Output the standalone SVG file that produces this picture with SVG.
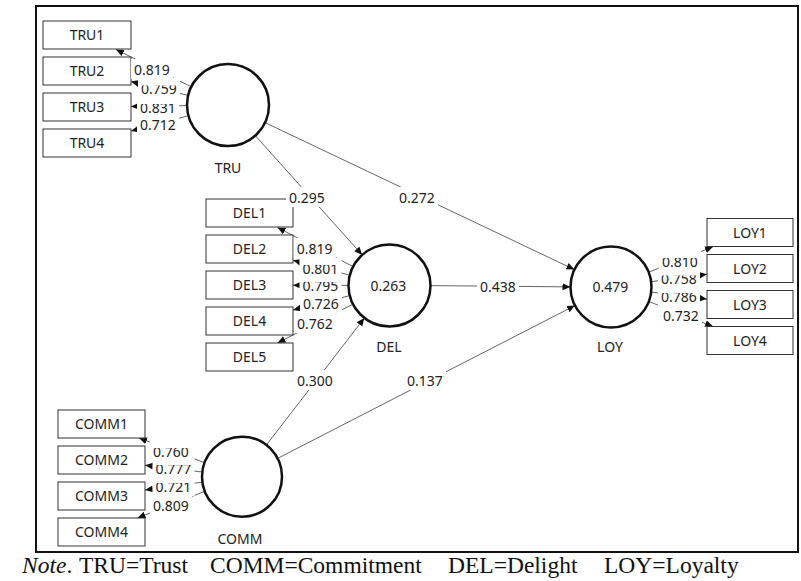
<svg xmlns="http://www.w3.org/2000/svg" width="801" height="581" viewBox="0 0 801 581">
<style>
.frame{fill:none;stroke:#111;stroke-width:2}
.box{fill:#fff;stroke:#333;stroke-width:1}
.lat{fill:#fff;stroke:#111;stroke-width:2.5}
.t{font-family:"Noto Sans","Open Sans",sans-serif;font-size:14px;fill:#222;text-anchor:middle}
.ln{stroke:#666;stroke-width:1;fill:none;marker-end:url(#ah)}
.bg{fill:#fff}
.note{font-family:"Liberation Serif","Times New Roman",serif;font-size:23.5px;fill:#111}
</style>
<defs>
<marker id="ah" markerUnits="userSpaceOnUse" markerWidth="9" markerHeight="8" refX="8" refY="3.5" orient="auto">
<path d="M0,0 L8,3.5 L0,7 z" fill="#111"/>
</marker>
<clipPath id="c1"><rect x="130" y="85.5" width="60" height="20"/></clipPath>
<clipPath id="c2"><rect x="130" y="104" width="60" height="20"/></clipPath>
<clipPath id="c3"><rect x="290" y="265" width="60" height="20"/></clipPath>
<clipPath id="c4"><rect x="290" y="282" width="60" height="20"/></clipPath>
<clipPath id="c5"><rect x="650" y="258" width="60" height="20"/></clipPath>
<clipPath id="c6"><rect x="650" y="275.5" width="60" height="20"/></clipPath>
<clipPath id="c7"><rect x="650" y="293" width="60" height="20"/></clipPath>
<clipPath id="c8"><rect x="140" y="448" width="60" height="20"/></clipPath>
<clipPath id="c9"><rect x="140" y="465" width="60" height="20"/></clipPath>
<clipPath id="c10"><rect x="140" y="483" width="60" height="20"/></clipPath>
</defs>
<rect class="frame" x="36" y="6" width="762" height="546"/>

<g id="connectors">
<line class="ln" x1="255.3" y1="135.6" x2="362.2" y2="254.9"/>
<line class="ln" x1="265" y1="122.6" x2="574.4" y2="269.6"/>
<line class="ln" x1="430.5" y1="285.6" x2="570.5" y2="286.9"/>
<line class="ln" x1="266.4" y1="445" x2="364.4" y2="318"/>
<line class="ln" x1="277.6" y1="458.4" x2="575" y2="305.5"/>
<line class="ln" x1="191.3" y1="86.8" x2="116" y2="49.5"/>
<line class="ln" x1="188.1" y1="95.4" x2="131" y2="81.6"/>
<line class="ln" x1="187" y1="105.6" x2="131" y2="106.4"/>
<line class="ln" x1="188.4" y1="115.7" x2="131" y2="131.1"/>
<line class="ln" x1="353.1" y1="266.6" x2="277.5" y2="227.5"/>
<line class="ln" x1="349.8" y1="275.2" x2="293" y2="260.3"/>
<line class="ln" x1="348.5" y1="285.4" x2="293" y2="285.2"/>
<line class="ln" x1="349.8" y1="295.6" x2="293" y2="310"/>
<line class="ln" x1="353" y1="304.2" x2="277.5" y2="343"/>
<line class="ln" x1="648.7" y1="272.2" x2="713" y2="246.7"/>
<line class="ln" x1="651.1" y1="281.7" x2="707" y2="274.2"/>
<line class="ln" x1="651.2" y1="292.1" x2="707" y2="299.1"/>
<line class="ln" x1="648.8" y1="301.5" x2="713" y2="326.5"/>
<line class="ln" x1="204.6" y1="462.7" x2="139" y2="438"/>
<line class="ln" x1="202.3" y1="472" x2="145" y2="465.2"/>
<line class="ln" x1="202.4" y1="482.1" x2="145" y2="490"/>
<line class="ln" x1="204.8" y1="491.3" x2="137.5" y2="518"/>
</g>

<g id="TRU1"><rect class="box" x="43" y="21" width="88" height="28"/><text class="t" x="87" y="40">TRU1</text></g>
<g id="TRU2"><rect class="box" x="43" y="57" width="88" height="28"/><text class="t" x="87" y="76">TRU2</text></g>
<g id="TRU3"><rect class="box" x="43" y="93" width="88" height="28"/><text class="t" x="87" y="112">TRU3</text></g>
<g id="TRU4"><rect class="box" x="43" y="129" width="88" height="28"/><text class="t" x="87" y="148">TRU4</text></g>

<g id="DEL1"><rect class="box" x="206" y="199" width="87" height="28"/><text class="t" x="249.5" y="218">DEL1</text></g>
<g id="DEL2"><rect class="box" x="206" y="235" width="87" height="28"/><text class="t" x="249.5" y="254">DEL2</text></g>
<g id="DEL3"><rect class="box" x="206" y="271" width="87" height="28"/><text class="t" x="249.5" y="290">DEL3</text></g>
<g id="DEL4"><rect class="box" x="206" y="307" width="87" height="28"/><text class="t" x="249.5" y="326">DEL4</text></g>
<g id="DEL5"><rect class="box" x="206" y="343" width="87" height="28"/><text class="t" x="249.5" y="362">DEL5</text></g>

<g id="LOY1"><rect class="box" x="707" y="218.5" width="86" height="28"/><text class="t" x="750" y="237.5">LOY1</text></g>
<g id="LOY2"><rect class="box" x="707" y="254.5" width="86" height="28"/><text class="t" x="750" y="273.5">LOY2</text></g>
<g id="LOY3"><rect class="box" x="707" y="290.5" width="86" height="28"/><text class="t" x="750" y="309.5">LOY3</text></g>
<g id="LOY4"><rect class="box" x="707" y="326.5" width="86" height="28"/><text class="t" x="750" y="345.5">LOY4</text></g>

<g id="COMM1"><rect class="box" x="58" y="410" width="87" height="28"/><text class="t" x="101.5" y="429">COMM1</text></g>
<g id="COMM2"><rect class="box" x="58" y="446" width="87" height="28"/><text class="t" x="101.5" y="465">COMM2</text></g>
<g id="COMM3"><rect class="box" x="58" y="482" width="87" height="28"/><text class="t" x="101.5" y="501">COMM3</text></g>
<g id="COMM4"><rect class="box" x="58" y="518" width="87" height="28"/><text class="t" x="101.5" y="537">COMM4</text></g>

<g id="TRU"><circle class="lat" cx="228" cy="105" r="41"/><text class="t" x="228" y="172.5">TRU</text></g>
<g id="DEL"><circle class="lat" cx="389.5" cy="285.5" r="41"/><text class="t" x="388.5" y="290.5">0.263</text><text class="t" x="389" y="351.5">DEL</text></g>
<g id="LOY"><circle class="lat" cx="611" cy="287" r="40.5"/><text class="t" x="610.5" y="291.5">0.479</text><text class="t" x="610" y="351.5">LOY</text></g>
<g id="COMM"><circle class="lat" cx="242" cy="476.7" r="40"/><text class="t" x="240" y="544">COMM</text></g>

<g id="labels">
<rect class="bg" x="286" y="187" width="42" height="20"/><text class="t" x="307" y="203">0.295</text>
<rect class="bg" x="396" y="187" width="42" height="20"/><text class="t" x="417" y="203">0.272</text>
<rect class="bg" x="477" y="276" width="42" height="20"/><text class="t" x="498" y="291.5">0.438</text>
<rect class="bg" x="294" y="370" width="42" height="20"/><text class="t" x="315" y="386">0.300</text>
<rect class="bg" x="404" y="370" width="42" height="20"/><text class="t" x="425" y="386">0.137</text>

<rect class="bg" x="137" y="114" width="42" height="20"/><text class="t" x="158" y="130">0.712</text>
<rect class="bg" x="137" y="97" width="42" height="20"/><text class="t" x="158" y="112.5" clip-path="url(#c2)">0.831</text>
<rect class="bg" x="138" y="78" width="42" height="20"/><text class="t" x="159" y="94" clip-path="url(#c1)">0.759</text>
<rect class="bg" x="131" y="59" width="42" height="20"/><text class="t" x="152" y="75">0.819</text>

<rect class="bg" x="294" y="313" width="42" height="20"/><text class="t" x="315" y="329">0.762</text>
<rect class="bg" x="300" y="293" width="42" height="20"/><text class="t" x="321" y="308.5">0.726</text>
<rect class="bg" x="299.5" y="275" width="42" height="20"/><text class="t" x="320.5" y="290.5" clip-path="url(#c4)">0.795</text>
<rect class="bg" x="299.5" y="258" width="42" height="20"/><text class="t" x="320.5" y="273.5" clip-path="url(#c3)">0.801</text>
<rect class="bg" x="293.7" y="238" width="42" height="20"/><text class="t" x="314.7" y="254">0.819</text>

<rect class="bg" x="660" y="305" width="42" height="20"/><text class="t" x="681" y="320.5">0.732</text>
<rect class="bg" x="658" y="286" width="42" height="20"/><text class="t" x="679" y="301.5" clip-path="url(#c7)">0.786</text>
<rect class="bg" x="658" y="268.5" width="42" height="20"/><text class="t" x="679" y="284" clip-path="url(#c6)">0.758</text>
<rect class="bg" x="659" y="251" width="42" height="20"/><text class="t" x="680" y="266.5" clip-path="url(#c5)">0.810</text>

<rect class="bg" x="150" y="495" width="42" height="20"/><text class="t" x="171" y="511">0.809</text>
<rect class="bg" x="152.5" y="476" width="42" height="20"/><text class="t" x="173.5" y="491.5" clip-path="url(#c10)">0.721</text>
<rect class="bg" x="152.5" y="458" width="42" height="20"/><text class="t" x="173.5" y="473.5" clip-path="url(#c9)">0.777</text>
<rect class="bg" x="150" y="441" width="42" height="20"/><text class="t" x="171" y="456.5" clip-path="url(#c8)">0.760</text>
</g>

<text class="note" y="573"><tspan x="22" font-style="italic">Note</tspan><tspan>.</tspan><tspan x="79">TRU=Trust</tspan><tspan x="210">COMM=Commitment</tspan><tspan x="448">DEL=Delight</tspan><tspan x="604">LOY=Loyalty</tspan></text>
</svg>
